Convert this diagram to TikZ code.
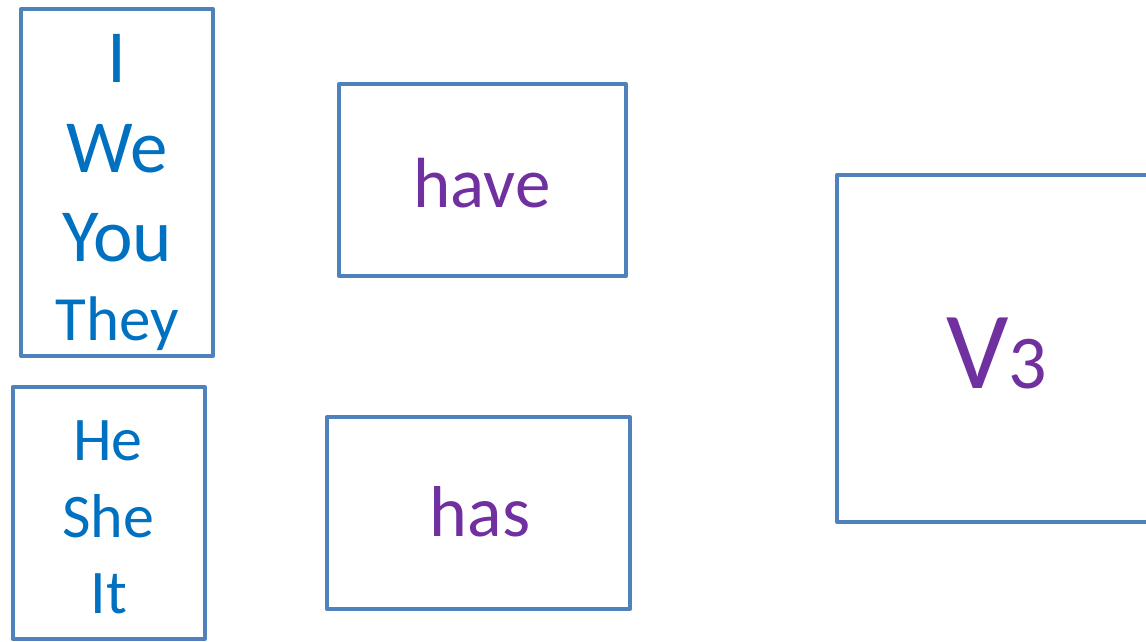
\documentclass[tikz,border=0pt]{standalone}
\usepackage{fontspec}
\setmainfont{Carlito}
\definecolor{edge}{RGB}{79,129,189}
\definecolor{pron}{RGB}{0,112,192}
\definecolor{verb}{RGB}{112,48,160}
\begin{document}
\begin{tikzpicture}[x=1pt,y=-1pt,
  box/.style={draw=edge,line width=4pt,line join=round,rectangle,inner sep=0pt},
  ptext/.style={text=pron,anchor=base,inner sep=0pt},
  vtext/.style={text=verb,anchor=base,inner sep=0pt}]
\useasboundingbox (0,0) rectangle (1146,642);
\clip (0,0) rectangle (1146,642);
% boxes
\node[box,minimum width=192pt,minimum height=347pt] (b1) at (117,182.5) {};
\node[box,minimum width=192pt,minimum height=252pt] (b2) at (108.5,513) {};
\node[box,minimum width=287pt,minimum height=192pt] (b3) at (482.5,180) {};
\node[box,minimum width=303pt,minimum height=192pt] (b4) at (478.5,513) {};
\node[box,minimum width=340pt,minimum height=347pt] (b5) at (1007,348.5) {};
% texts
\node[ptext,font=\fontsize{75}{75}\selectfont] (tI) at (117,82) {I};
\node[ptext,font=\fontsize{75}{75}\selectfont] (tWe) at (117,172) {We};
\node[ptext,font=\fontsize{75}{75}\selectfont] (tYou) at (117,261) {You};
\node[ptext,font=\fontsize{63}{63}\selectfont] (tThey) at (117,340) {They};
\node[ptext,font=\fontsize{62}{62}\selectfont] (tHe) at (108,460) {He};
\node[ptext,font=\fontsize{62}{62}\selectfont] (tShe) at (108,537) {She};
\node[ptext,font=\fontsize{62}{62}\selectfont] (tIt) at (109,613) {It};
\node[vtext,font=\fontsize{71}{71}\selectfont] (thave) at (482,207) {have};
\node[vtext,font=\fontsize{72}{72}\selectfont] (thas) at (480,536) {has};
\node[vtext] (tV) at (997,388) {\fontsize{110}{110}\selectfont V\fontsize{76}{76}\selectfont 3};
\end{tikzpicture}
\end{document}
